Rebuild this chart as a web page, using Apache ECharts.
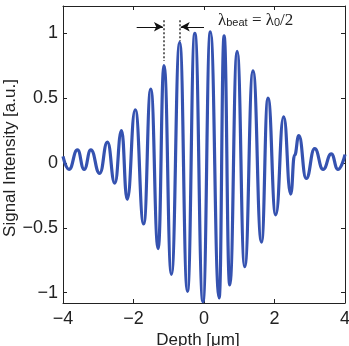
<!DOCTYPE html>
<html>
<head>
<meta charset="utf-8">
<script src="https://cdn.jsdelivr.net/npm/echarts@6.0.0/dist/echarts.min.js"></script>
<style>
html, body { margin: 0; padding: 0; background: #fff; }
#chart { width: 349px; height: 346px; }
</style>
</head>
<body>
<div id="chart"></div>
<script>
// peaks / troughs of the interferogram
const depth = [-4.0, -3.83, -3.59, -3.40, -3.21, -2.96, -2.74, -2.53, -2.34, -2.18,
    -1.95, -1.71, -1.51, -1.30, -1.135, -0.925, -0.69, -0.47, -0.26, -0.03,
    0.18, 0.43, 0.57, 0.73, 0.94, 1.155, 1.39, 1.63, 1.815, 2.035,
    2.26, 2.46, 2.57, 2.69, 2.90, 3.14, 3.38, 3.61, 3.80, 4.0]
const signal = [0.05, -0.05, 0.10, -0.05, 0.10, -0.08, 0.16, -0.155, 0.25, -0.28,
    0.41, -0.47, 0.57, -0.66, 0.75, -0.86, 0.93, -0.99, 1.0, -1.07,
    1.01, -1.04, 0.98, -0.94, 0.86, -0.80, 0.71, -0.61, 0.50, -0.40,
    0.355, -0.24, 0.06, 0.21, -0.12, 0.11, -0.05, 0.07, -0.05, 0.065]
const yTicks = [-1, -0.5, 0, 0.5, 1]

// annotation: the two neighbouring peaks and the arrows pointing at them
const beatX = [-1.135, -0.69]
const beatTop = 1.10
const beatBottom = [0.785, 0.94]
const arrowY = 1.05
const arrowTail = [-1.91, 0.0]

const font = '"Liberation Sans", Arial, sans-serif'
const axisColor = '#222'
const minus = v => String(v).replace('-', '\u2212')

const chart = echarts.init(document.getElementById('chart'))
const curve = depth.map((d, i) => [d, signal[i]])

const dotted = { type: 'dotted', color: '#666', width: 2 }
const arrowLine = { type: 'solid', color: '#111', width: 1 }

const baseX = {
    type: 'value', min: -4, max: 4, interval: 2,
    axisLine: { onZero: false, lineStyle: { color: axisColor, width: 1 } },
    axisTick: { inside: true, length: 4, lineStyle: { color: axisColor } },
    splitLine: { show: false }
}
const baseY = {
    type: 'value', min: -1.08, max: 1.21,
    axisLine: { onZero: false, lineStyle: { color: axisColor, width: 1 } },
    axisTick: { inside: true, length: 4, lineStyle: { color: axisColor } },
    splitLine: { show: false }
}

const option = {
    animation: false,
    grid: { left: 63, right: 4, top: 6, bottom: 43, containLabel: false, outerBoundsMode: 'none' },
    xAxis: [
        Object.assign({}, baseX, {
            position: 'bottom',
            axisLabel: { fontSize: 18, color: axisColor, fontFamily: font, margin: 7, formatter: minus }
        }),
        Object.assign({}, baseX, { position: 'top', axisLabel: { show: false } })
    ],
    yAxis: [
        Object.assign({}, baseY, {
            position: 'left',
            axisLabel: {
                fontSize: 18, color: axisColor, fontFamily: font, margin: 5,
                showMinLabel: false, showMaxLabel: false,
                formatter: v => yTicks.some(t => Math.abs(t - v) < 1e-6) ? minus(v) : ''
            }
        }),
        Object.assign({}, baseY, { position: 'right', axisLabel: { show: false } })
    ],
    graphic: [
        {
            type: 'text',
            x: 10,
            y: 158,
            rotation: Math.PI / 2,
            style: { text: 'Signal Intensity [a.u.]', fontSize: 17, fontFamily: font, fill: axisColor, align: 'center', verticalAlign: 'middle' }
        },
        {
            type: 'text',
            x: 198,
            y: 332,
            style: { text: 'Depth [μm]', fontSize: 17, fontFamily: font, fill: axisColor, align: 'center', verticalAlign: 'top' }
        },
        {
            type: 'text',
            left: 218,
            top: 12,
            style: {
                text: '{a|λ}{b|beat}{a| = λ}{b|0}{a|/2}',
                rich: {
                    a: { fontSize: 17, fontFamily: '"Liberation Serif", "Times New Roman", serif', fill: '#222', lineHeight: 20, verticalAlign: 'bottom' },
                    b: { fontSize: 11, fontFamily: font, fill: '#222', lineHeight: 20, verticalAlign: 'bottom', padding: [0, 0, 1, 0] }
                }
            }
        }
    ],
    series: [{
        type: 'line',
        data: curve,
        showSymbol: false,
        smooth: 0.5,
        smoothMonotone: 'x',
        lineStyle: { color: '#3552b0', width: 3.2 },
        markLine: {
            silent: true,
            symbol: ['none', 'none'],
            label: { show: false },
            data: [
                [{ coord: [beatX[0], beatTop], lineStyle: dotted }, { coord: [beatX[0], beatBottom[0]], lineStyle: dotted }],
                [{ coord: [beatX[1], beatTop], lineStyle: dotted }, { coord: [beatX[1], beatBottom[1]], lineStyle: dotted }],
                [{ coord: [arrowTail[0], arrowY], lineStyle: arrowLine, symbol: 'none' },
                 { coord: [beatX[0] - 0.03, arrowY], lineStyle: arrowLine, symbol: 'arrow', symbolSize: [7, 9] }],
                [{ coord: [arrowTail[1], arrowY], lineStyle: arrowLine, symbol: 'none' },
                 { coord: [beatX[1] + 0.03, arrowY], lineStyle: arrowLine, symbol: 'arrow', symbolSize: [7, 9] }]
            ]
        }
    }]
}
chart.setOption(option)
</script>
</body>
</html>
